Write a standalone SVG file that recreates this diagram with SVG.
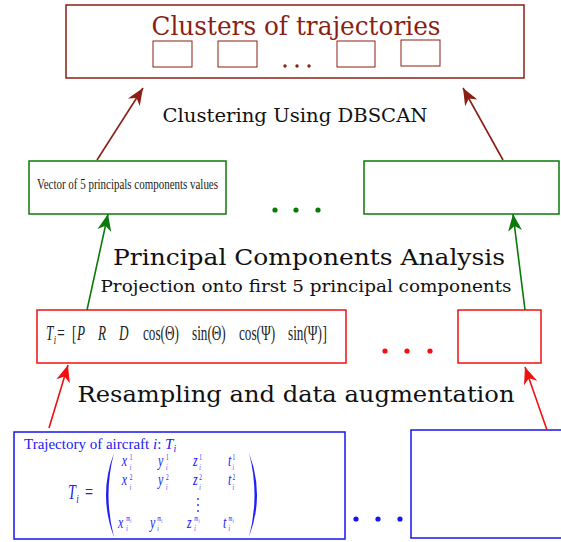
<svg xmlns="http://www.w3.org/2000/svg" width="561" height="542" viewBox="0 0 561 542">
<style>
text{font-family:"Liberation Serif","DejaVu Serif",serif;}
.dv{font-family:"DejaVu Serif","Liberation Serif",serif;}
.dr{fill:#8b1f13;}
.bx{fill:none;stroke-width:1.5;}
.it{font-style:italic;}
.bl{fill:#2020f5;}
.sp{font-size:7.5px;font-style:normal;}
.sb{font-size:7.5px;}
.ss{font-size:5.5px;}
</style>
<defs>
<marker id="ahDR" markerUnits="userSpaceOnUse" markerWidth="20" markerHeight="18" viewBox="-18 -9 20 18" refX="0" refY="0" orient="auto"><path d="M0,0 L-17,-7 L-12,0 L-17,7 Z" fill="#8b1f13"/></marker>
<marker id="ahG" markerUnits="userSpaceOnUse" markerWidth="20" markerHeight="18" viewBox="-18 -9 20 18" refX="0" refY="0" orient="auto"><path d="M0,0 L-17,-7 L-12,0 L-17,7 Z" fill="#0a7a0a"/></marker>
<marker id="ahR" markerUnits="userSpaceOnUse" markerWidth="20" markerHeight="18" viewBox="-18 -9 20 18" refX="0" refY="0" orient="auto"><path d="M0,0 L-17,-7 L-12,0 L-17,7 Z" fill="#f01010"/></marker>
</defs>
<rect width="561" height="542" fill="#fff"/>

<g id="clusters">
<rect class="bx" x="66" y="5" width="458" height="73" stroke="#8b1f13"/>
<text class="dr dv" x="296" y="35" font-size="26" text-anchor="middle" textLength="289" lengthAdjust="spacingAndGlyphs">Clusters of trajectories</text>
<g fill="none" stroke="#8b1f13" stroke-width="1">
<rect x="153" y="41" width="39" height="26"/>
<rect x="218" y="41" width="39" height="26"/>
<rect x="337" y="41" width="38" height="26"/>
<rect x="401" y="40" width="39" height="26"/>
</g>
<g class="dr"><circle cx="285" cy="66" r="1.7"/><circle cx="297" cy="66" r="1.7"/><circle cx="309" cy="66" r="1.7"/></g>
</g>

<g id="pca-left">
<rect class="bx" x="29" y="161" width="197" height="53" stroke="#0a7a0a"/>
<text x="37" y="189" font-size="15" textLength="181" lengthAdjust="spacingAndGlyphs" fill="#222">Vector of 5 principals components values</text>
</g>
<g id="pca-right">
<rect class="bx" x="364" y="161" width="195" height="53" stroke="#0a7a0a"/>
</g>
<g id="pca-dots" fill="#0a7a0a"><circle cx="275" cy="210" r="2.6"/><circle cx="296" cy="210" r="2.6"/><circle cx="318" cy="210" r="2.6"/></g>

<g id="resampled-left">
<rect class="bx" x="37" y="310" width="309" height="53" stroke="#f01010"/>
<text transform="translate(46,340) scale(0.66,1)" font-size="20" fill="#222"><tspan x="0" y="0" class="it">T</tspan><tspan x="11.6" y="4" class="it" font-size="13">i</tspan><tspan x="17" y="0">=</tspan><tspan x="39.4" y="0">[</tspan><tspan x="47" y="0" class="it">P</tspan><tspan x="78.8" y="0" class="it">R</tspan><tspan x="110.6" y="0" class="it">D</tspan><tspan x="147" y="0">cos(Θ)</tspan><tspan x="221.2" y="0">sin(Θ)</tspan><tspan x="292.4" y="0">cos(Ψ)</tspan><tspan x="366.7" y="0">sin(Ψ)</tspan><tspan x="419" y="0">]</tspan></text>
</g>
<g id="resampled-right">
<rect class="bx" x="458" y="310" width="83" height="53" stroke="#f01010"/>
</g>
<g id="resampled-dots" fill="#f01010"><circle cx="385" cy="351" r="2.6"/><circle cx="407" cy="351" r="2.6"/><circle cx="430" cy="351" r="2.6"/></g>

<g id="trajectory-left">
<rect class="bx" x="14" y="432" width="331" height="107" stroke="#1515f0"/>
<text x="24" y="449" class="bl" font-size="15">Trajectory of aircraft <tspan class="it">i</tspan>: <tspan class="it">T</tspan><tspan class="it" font-size="10" dy="3">i</tspan></text>
<text transform="scale(0.7,1)" class="bl it" font-size="17"><tspan x="97.1" y="499" font-size="20">T</tspan><tspan x="109" y="503" font-size="13">i</tspan><tspan x="121.4" y="499" font-size="20" font-style="normal">=</tspan><tspan x="173.9" y="466">x</tspan><tspan x="185.5" y="460" class="sp">1</tspan><tspan x="185.5" y="470" class="sb">i</tspan><tspan x="225.7" y="466">y</tspan><tspan x="237" y="460" class="sp">1</tspan><tspan x="237" y="470" class="sb">i</tspan><tspan x="275.7" y="466">z</tspan><tspan x="284.5" y="460" class="sp">1</tspan><tspan x="284.5" y="470" class="sb">i</tspan><tspan x="325.7" y="466">t</tspan><tspan x="332" y="460" class="sp">1</tspan><tspan x="332" y="470" class="sb">i</tspan><tspan x="173.9" y="485">x</tspan><tspan x="185.5" y="480.5" class="sp">2</tspan><tspan x="185.5" y="490" class="sb">i</tspan><tspan x="225.7" y="485">y</tspan><tspan x="237" y="480.5" class="sp">2</tspan><tspan x="237" y="490" class="sb">i</tspan><tspan x="275.7" y="485">z</tspan><tspan x="284.5" y="480.5" class="sp">2</tspan><tspan x="284.5" y="490" class="sb">i</tspan><tspan x="325.7" y="485">t</tspan><tspan x="332" y="480.5" class="sp">2</tspan><tspan x="332" y="490" class="sb">i</tspan><tspan x="168.6" y="528">x</tspan><tspan x="180.4" y="521" class="sb">m</tspan><tspan x="186.2" y="523" class="ss">i</tspan><tspan x="180.4" y="531" class="sb">i</tspan><tspan x="214.3" y="528">y</tspan><tspan x="224.7" y="521" class="sb">m</tspan><tspan x="230.5" y="523" class="ss">i</tspan><tspan x="224.7" y="531" class="sb">i</tspan><tspan x="267.1" y="528">z</tspan><tspan x="277.6" y="521" class="sb">m</tspan><tspan x="283.4" y="523" class="ss">i</tspan><tspan x="277.6" y="531" class="sb">i</tspan><tspan x="318.6" y="528">t</tspan><tspan x="326.6" y="521" class="sb">m</tspan><tspan x="332.4" y="523" class="ss">i</tspan><tspan x="326.6" y="531" class="sb">i</tspan></text>
<path d="M114,453 Q98,495 114,537 Q103,495 114,453 Z" fill="#2020f5"/>
<path d="M249,453 Q265,495 249,537 Q260,495 249,453 Z" fill="#2020f5"/>
<g fill="#2020f5"><circle cx="198" cy="499" r="0.9"/><circle cx="198" cy="505" r="0.9"/><circle cx="198" cy="511" r="0.9"/></g>
</g>
<g id="trajectory-right">
<rect class="bx" x="411" y="430" width="160" height="108" stroke="#1515f0"/>
</g>
<g id="trajectory-dots" fill="#1515f0"><circle cx="356" cy="519" r="2.6"/><circle cx="378" cy="519" r="2.6"/><circle cx="400" cy="519" r="2.6"/></g>

<g id="labels" fill="#111">
<text class="dv" x="295" y="122" font-size="19" text-anchor="middle" textLength="265" lengthAdjust="spacingAndGlyphs">Clustering Using DBSCAN</text>
<text class="dv" x="309" y="265" font-size="23" text-anchor="middle" textLength="392" lengthAdjust="spacingAndGlyphs">Principal Components Analysis</text>
<text class="dv" x="306" y="292" font-size="17" text-anchor="middle" textLength="411" lengthAdjust="spacingAndGlyphs">Projection onto first 5 principal components</text>
<text class="dv" x="296" y="402" font-size="22" text-anchor="middle" textLength="437" lengthAdjust="spacingAndGlyphs">Resampling and data augmentation</text>
</g>

<g id="connectors" stroke-width="1.6" fill="none">
<line x1="97" y1="160" x2="143" y2="88" stroke="#8b1f13" marker-end="url(#ahDR)"/>
<line x1="503" y1="160" x2="463" y2="88" stroke="#8b1f13" marker-end="url(#ahDR)"/>
<line x1="87" y1="310" x2="108" y2="214" stroke="#0a7a0a" marker-end="url(#ahG)"/>
<line x1="525" y1="310" x2="513" y2="214" stroke="#0a7a0a" marker-end="url(#ahG)"/>
<line x1="49" y1="428" x2="68" y2="365" stroke="#f01010" marker-end="url(#ahR)"/>
<line x1="547" y1="430" x2="525" y2="367" stroke="#f01010" marker-end="url(#ahR)"/>
</g>
</svg>
